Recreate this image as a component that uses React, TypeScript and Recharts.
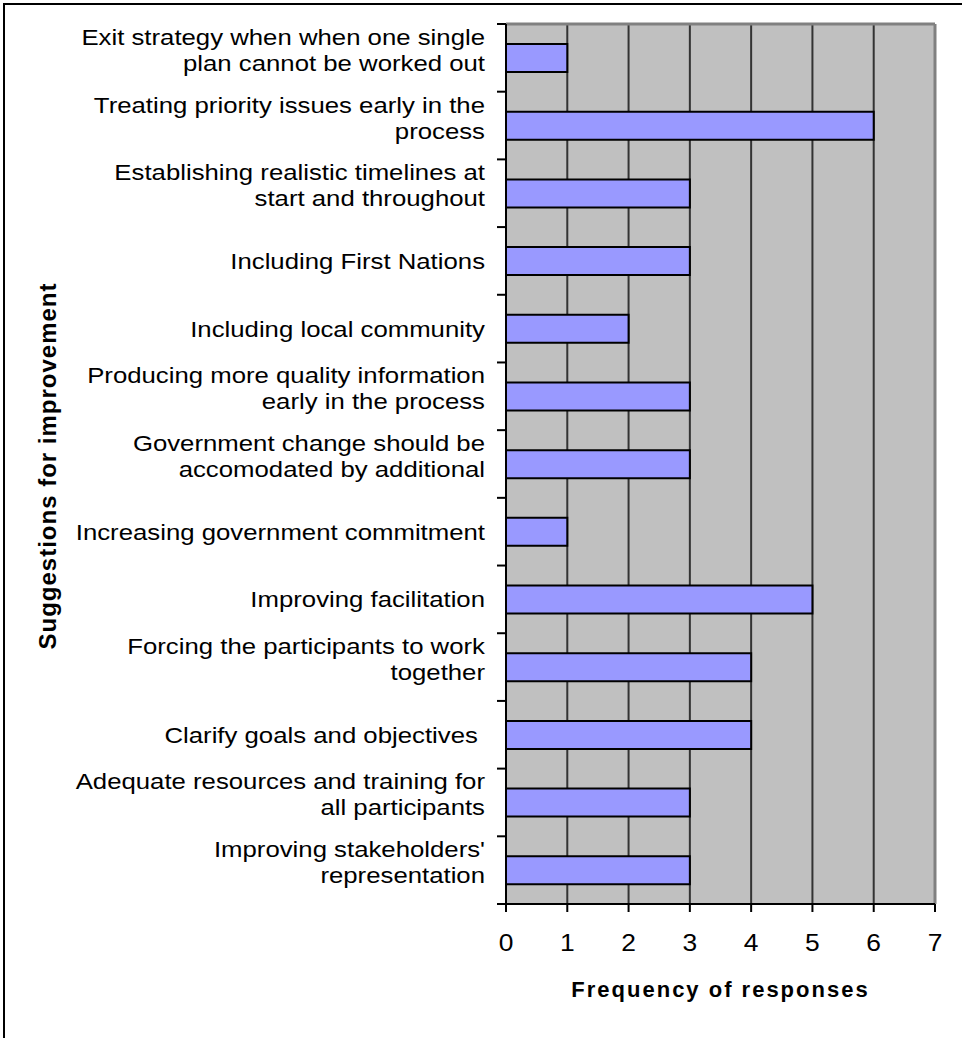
import { BarChart, Bar, XAxis, YAxis, CartesianGrid, ReferenceLine } from 'recharts';

const categories = [
  'Exit strategy when when one single\nplan cannot be worked out',
  'Treating priority issues early in the\nprocess',
  'Establishing realistic timelines at\nstart and throughout',
  'Including First Nations',
  'Including local community',
  'Producing more quality information\nearly in the process',
  'Government change should be\naccomodated by additional',
  'Increasing government commitment',
  'Improving facilitation',
  'Forcing the participants to work\ntogether',
  'Clarify goals and objectives ',
  'Adequate resources and training for\nall participants',
  "Improving stakeholders'\nrepresentation",
];

const responses = [1, 6, 3, 3, 2, 3, 3, 1, 5, 4, 4, 3, 3];

const xTicks = [0, 1, 2, 3, 4, 5, 6, 7];

const data = categories.map((name, i) => ({ name, value: responses[i] }));

const FONT = '"Liberation Sans", Arial, sans-serif';
// the labels are set a little wide
const STRETCH = 1.12;
const TICK = 9;
const GAP = 12;

function CategoryTick({ x, y, payload, index }: any) {
  const lines = String(payload.value).split('\n');
  const first = y + 8 - (lines.length - 1) * 21;
  const half = payload.offset ?? 0;
  const ax = x + GAP + TICK;
  const last = index === categories.length - 1;
  return (
    <g>
      {/* Excel-style tick marks sit on the band edges, not the centres */}
      <line x1={ax - TICK} x2={ax} y1={y - half} y2={y - half} stroke="#000" strokeWidth={2} />
      {last && <line x1={ax - TICK} x2={ax} y1={y + half} y2={y + half} stroke="#000" strokeWidth={2} />}
      <text
        x={x}
        y={first}
        textAnchor="end"
        fontFamily={FONT}
        fontSize={23}
        fill="#000"
        style={{ whiteSpace: 'pre' }}
        transform={`translate(${x},0) scale(${STRETCH},1) translate(${-x},0)`}
      >
        {lines.map((ln, i) => (
          <tspan key={i} x={x} y={first + i * 26}>
            {ln}
          </tspan>
        ))}
      </text>
    </g>
  );
}

function ValueTick({ x, y, payload }: any) {
  return (
    <text
      x={x}
      y={y + 37}
      textAnchor="middle"
      fontFamily={FONT}
      fontSize={24}
      fill="#000"
      transform={`translate(${x},0) scale(1.1,1) translate(${-x},0)`}
    >
      {payload.value}
    </text>
  );
}

function YTitle({ viewBox }: any) {
  const cy = viewBox.y + viewBox.height / 2 + 2;
  const bx = 56;
  return (
    <text
      x={bx}
      y={cy}
      transform={`rotate(-90, ${bx}, ${cy})`}
      textAnchor="middle"
      fontFamily={FONT}
      fontSize={24}
      fontWeight="bold"
      letterSpacing={1}
      fill="#000"
    >
      Suggestions for improvement
    </text>
  );
}

export default function App() {
  return (
    <div style={{ position: 'absolute', left: 0, top: 0, width: 962, height: 1038, overflow: 'hidden', background: '#fff' }}>
      <div
        style={{
          position: 'absolute',
          left: 3,
          top: 3,
          width: 1100,
          height: 1200,
          borderLeft: '2px solid #000',
          borderTop: '2px solid #000',
        }}
      />
      <BarChart
        width={962}
        height={1038}
        data={data}
        layout="vertical"
        margin={{ top: 24, right: 27, bottom: 0, left: 0 }}
        style={{ position: 'absolute', left: 0, top: 0 }}
      >
        <CartesianGrid horizontal={false} vertical stroke="#333" strokeWidth={2} fill="#C0C0C0" fillOpacity={1} />
        <XAxis
          type="number"
          domain={[0, 7]}
          ticks={xTicks}
          interval={0}
          height={134}
          tickSize={8}
          tick={<ValueTick />}
          axisLine={{ stroke: '#000', strokeWidth: 2 }}
          tickLine={{ stroke: '#000', strokeWidth: 2 }}
          label={{
            value: 'Frequency of responses',
            position: 'insideBottom',
            offset: 41,
            fontFamily: FONT,
            fontSize: 22,
            fontWeight: 'bold',
            letterSpacing: 2,
            fill: '#000',
          }}
        />
        <YAxis
          yAxisId="cats"
          type="category"
          dataKey="name"
          width={506}
          interval={0}
          tickSize={TICK}
          tickMargin={GAP}
          tickLine={false}
          tick={<CategoryTick />}
          axisLine={{ stroke: '#000', strokeWidth: 2 }}
          label={{ content: <YTitle /> }}
        />
        {/* grey plot frame on the top and right */}
        <ReferenceLine yAxisId="cats" y={categories[0]} position="start" stroke="#808080" strokeWidth={3} />
        <ReferenceLine yAxisId="cats" x={7} stroke="#808080" strokeWidth={3} />
        <Bar
          yAxisId="cats"
          dataKey="value"
          fill="#9999FF"
          stroke="#000"
          strokeWidth={2}
          barSize={28}
          isAnimationActive={false}
        />
      </BarChart>
    </div>
  );
}
